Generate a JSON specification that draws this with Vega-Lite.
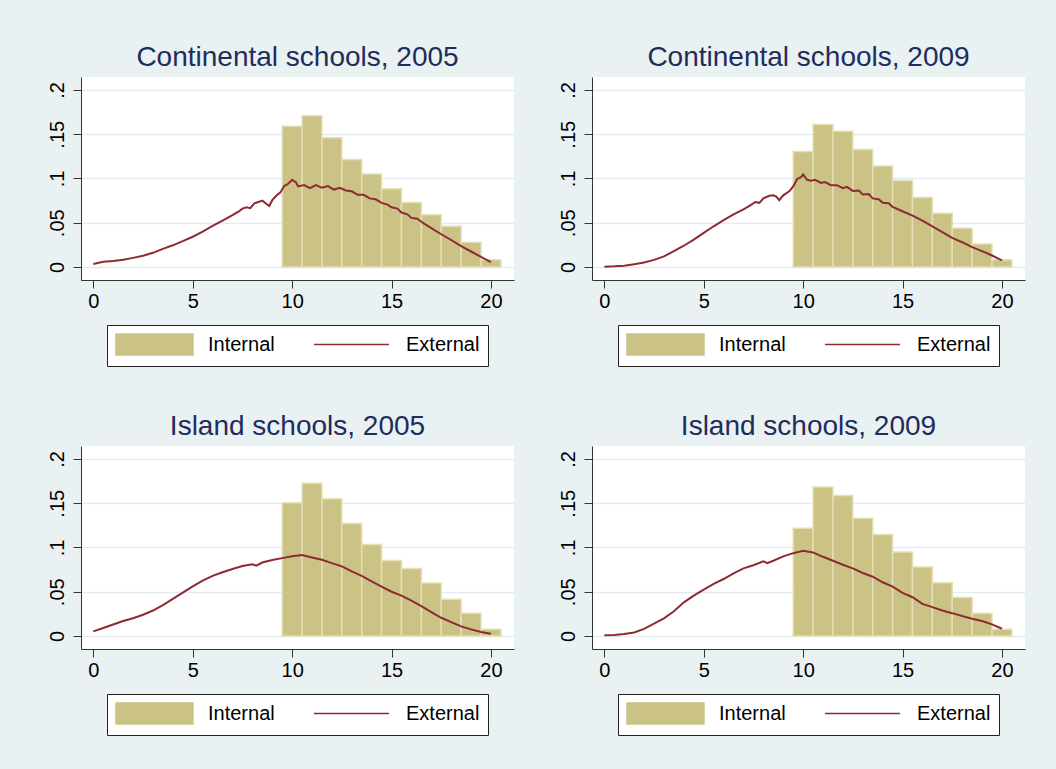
{
  "$schema": "https://vega.github.io/schema/vega-lite/v6.json",
  "background": "#EAF1F3",
  "padding": {"left": 47, "top": 44, "right": 31, "bottom": 39},
  "datasets": {
    "bars": [
      {"panel": "C2005", "bin_start": 9.5, "bin_end": 10.5, "density": 0.159},
      {"panel": "C2005", "bin_start": 10.5, "bin_end": 11.5, "density": 0.171},
      {"panel": "C2005", "bin_start": 11.5, "bin_end": 12.5, "density": 0.146},
      {"panel": "C2005", "bin_start": 12.5, "bin_end": 13.5, "density": 0.1215},
      {"panel": "C2005", "bin_start": 13.5, "bin_end": 14.5, "density": 0.105},
      {"panel": "C2005", "bin_start": 14.5, "bin_end": 15.5, "density": 0.0885},
      {"panel": "C2005", "bin_start": 15.5, "bin_end": 16.5, "density": 0.073},
      {"panel": "C2005", "bin_start": 16.5, "bin_end": 17.5, "density": 0.059},
      {"panel": "C2005", "bin_start": 17.5, "bin_end": 18.5, "density": 0.046},
      {"panel": "C2005", "bin_start": 18.5, "bin_end": 19.5, "density": 0.028},
      {"panel": "C2005", "bin_start": 19.5, "bin_end": 20.5, "density": 0.0083},
      {"panel": "C2009", "bin_start": 9.5, "bin_end": 10.5, "density": 0.1306},
      {"panel": "C2009", "bin_start": 10.5, "bin_end": 11.5, "density": 0.161},
      {"panel": "C2009", "bin_start": 11.5, "bin_end": 12.5, "density": 0.1535},
      {"panel": "C2009", "bin_start": 12.5, "bin_end": 13.5, "density": 0.1328},
      {"panel": "C2009", "bin_start": 13.5, "bin_end": 14.5, "density": 0.114},
      {"panel": "C2009", "bin_start": 14.5, "bin_end": 15.5, "density": 0.0976},
      {"panel": "C2009", "bin_start": 15.5, "bin_end": 16.5, "density": 0.0784},
      {"panel": "C2009", "bin_start": 16.5, "bin_end": 17.5, "density": 0.0608},
      {"panel": "C2009", "bin_start": 17.5, "bin_end": 18.5, "density": 0.0439},
      {"panel": "C2009", "bin_start": 18.5, "bin_end": 19.5, "density": 0.0259},
      {"panel": "C2009", "bin_start": 19.5, "bin_end": 20.5, "density": 0.0083},
      {"panel": "I2005", "bin_start": 9.5, "bin_end": 10.5, "density": 0.1506},
      {"panel": "I2005", "bin_start": 10.5, "bin_end": 11.5, "density": 0.1727},
      {"panel": "I2005", "bin_start": 11.5, "bin_end": 12.5, "density": 0.155},
      {"panel": "I2005", "bin_start": 12.5, "bin_end": 13.5, "density": 0.127},
      {"panel": "I2005", "bin_start": 13.5, "bin_end": 14.5, "density": 0.1034},
      {"panel": "I2005", "bin_start": 14.5, "bin_end": 15.5, "density": 0.0854},
      {"panel": "I2005", "bin_start": 15.5, "bin_end": 16.5, "density": 0.0764},
      {"panel": "I2005", "bin_start": 16.5, "bin_end": 17.5, "density": 0.0599},
      {"panel": "I2005", "bin_start": 17.5, "bin_end": 18.5, "density": 0.0416},
      {"panel": "I2005", "bin_start": 18.5, "bin_end": 19.5, "density": 0.0258},
      {"panel": "I2005", "bin_start": 19.5, "bin_end": 20.5, "density": 0.0075},
      {"panel": "I2009", "bin_start": 9.5, "bin_end": 10.5, "density": 0.1217},
      {"panel": "I2009", "bin_start": 10.5, "bin_end": 11.5, "density": 0.1685},
      {"panel": "I2009", "bin_start": 11.5, "bin_end": 12.5, "density": 0.1588},
      {"panel": "I2009", "bin_start": 12.5, "bin_end": 13.5, "density": 0.133},
      {"panel": "I2009", "bin_start": 13.5, "bin_end": 14.5, "density": 0.1146},
      {"panel": "I2009", "bin_start": 14.5, "bin_end": 15.5, "density": 0.0948},
      {"panel": "I2009", "bin_start": 15.5, "bin_end": 16.5, "density": 0.0779},
      {"panel": "I2009", "bin_start": 16.5, "bin_end": 17.5, "density": 0.0603},
      {"panel": "I2009", "bin_start": 17.5, "bin_end": 18.5, "density": 0.0434},
      {"panel": "I2009", "bin_start": 18.5, "bin_end": 19.5, "density": 0.0258},
      {"panel": "I2009", "bin_start": 19.5, "bin_end": 20.5, "density": 0.0075}
    ],
    "lines": [
      {"panel": "C2005", "x": 0, "density": 0.0034},
      {"panel": "C2005", "x": 0.5, "density": 0.0058},
      {"panel": "C2005", "x": 1, "density": 0.0068},
      {"panel": "C2005", "x": 1.5, "density": 0.0082},
      {"panel": "C2005", "x": 2, "density": 0.0103},
      {"panel": "C2005", "x": 2.5, "density": 0.0128},
      {"panel": "C2005", "x": 3, "density": 0.016},
      {"panel": "C2005", "x": 3.5, "density": 0.0205},
      {"panel": "C2005", "x": 4, "density": 0.0245},
      {"panel": "C2005", "x": 4.5, "density": 0.0292},
      {"panel": "C2005", "x": 5, "density": 0.0342},
      {"panel": "C2005", "x": 5.5, "density": 0.04},
      {"panel": "C2005", "x": 6, "density": 0.0465},
      {"panel": "C2005", "x": 6.5, "density": 0.0525},
      {"panel": "C2005", "x": 7, "density": 0.0585},
      {"panel": "C2005", "x": 7.3, "density": 0.0625},
      {"panel": "C2005", "x": 7.5, "density": 0.066},
      {"panel": "C2005", "x": 7.7, "density": 0.0675},
      {"panel": "C2005", "x": 7.9, "density": 0.0665},
      {"panel": "C2005", "x": 8.1, "density": 0.072},
      {"panel": "C2005", "x": 8.3, "density": 0.0735},
      {"panel": "C2005", "x": 8.5, "density": 0.075},
      {"panel": "C2005", "x": 8.7, "density": 0.0715},
      {"panel": "C2005", "x": 8.85, "density": 0.069},
      {"panel": "C2005", "x": 9.0, "density": 0.0755},
      {"panel": "C2005", "x": 9.2, "density": 0.0805},
      {"panel": "C2005", "x": 9.4, "density": 0.084},
      {"panel": "C2005", "x": 9.6, "density": 0.0915},
      {"panel": "C2005", "x": 9.8, "density": 0.094},
      {"panel": "C2005", "x": 10.0, "density": 0.0985},
      {"panel": "C2005", "x": 10.2, "density": 0.0955},
      {"panel": "C2005", "x": 10.3, "density": 0.091},
      {"panel": "C2005", "x": 10.6, "density": 0.0925},
      {"panel": "C2005", "x": 10.9, "density": 0.089},
      {"panel": "C2005", "x": 11.2, "density": 0.0925},
      {"panel": "C2005", "x": 11.5, "density": 0.0895},
      {"panel": "C2005", "x": 11.8, "density": 0.0915},
      {"panel": "C2005", "x": 12.1, "density": 0.0875},
      {"panel": "C2005", "x": 12.4, "density": 0.0895},
      {"panel": "C2005", "x": 12.7, "density": 0.0865},
      {"panel": "C2005", "x": 13.0, "density": 0.0855},
      {"panel": "C2005", "x": 13.3, "density": 0.0815},
      {"panel": "C2005", "x": 13.6, "density": 0.0815},
      {"panel": "C2005", "x": 13.9, "density": 0.0775},
      {"panel": "C2005", "x": 14.2, "density": 0.0765},
      {"panel": "C2005", "x": 14.5, "density": 0.0725},
      {"panel": "C2005", "x": 14.8, "density": 0.0705},
      {"panel": "C2005", "x": 15.0, "density": 0.0675},
      {"panel": "C2005", "x": 15.3, "density": 0.066},
      {"panel": "C2005", "x": 15.5, "density": 0.0615},
      {"panel": "C2005", "x": 15.8, "density": 0.0595},
      {"panel": "C2005", "x": 16.0, "density": 0.0555},
      {"panel": "C2005", "x": 16.3, "density": 0.0545},
      {"panel": "C2005", "x": 16.6, "density": 0.0495},
      {"panel": "C2005", "x": 17.0, "density": 0.044},
      {"panel": "C2005", "x": 17.5, "density": 0.037},
      {"panel": "C2005", "x": 18.0, "density": 0.0305},
      {"panel": "C2005", "x": 18.5, "density": 0.0235},
      {"panel": "C2005", "x": 19.0, "density": 0.0175},
      {"panel": "C2005", "x": 19.5, "density": 0.0115},
      {"panel": "C2005", "x": 20.0, "density": 0.0055},
      {"panel": "C2009", "x": 0, "density": 0.0004},
      {"panel": "C2009", "x": 0.5, "density": 0.0008},
      {"panel": "C2009", "x": 1, "density": 0.0015},
      {"panel": "C2009", "x": 1.5, "density": 0.003},
      {"panel": "C2009", "x": 2, "density": 0.005},
      {"panel": "C2009", "x": 2.5, "density": 0.008},
      {"panel": "C2009", "x": 3, "density": 0.012},
      {"panel": "C2009", "x": 3.5, "density": 0.018},
      {"panel": "C2009", "x": 4, "density": 0.024},
      {"panel": "C2009", "x": 4.5, "density": 0.031},
      {"panel": "C2009", "x": 5, "density": 0.0385},
      {"panel": "C2009", "x": 5.5, "density": 0.046},
      {"panel": "C2009", "x": 6, "density": 0.053},
      {"panel": "C2009", "x": 6.5, "density": 0.0595},
      {"panel": "C2009", "x": 7, "density": 0.065},
      {"panel": "C2009", "x": 7.3, "density": 0.069},
      {"panel": "C2009", "x": 7.6, "density": 0.0735},
      {"panel": "C2009", "x": 7.8, "density": 0.0725},
      {"panel": "C2009", "x": 8.0, "density": 0.0775},
      {"panel": "C2009", "x": 8.3, "density": 0.0805},
      {"panel": "C2009", "x": 8.5, "density": 0.081},
      {"panel": "C2009", "x": 8.65, "density": 0.0795},
      {"panel": "C2009", "x": 8.8, "density": 0.0755},
      {"panel": "C2009", "x": 9.0, "density": 0.081},
      {"panel": "C2009", "x": 9.3, "density": 0.0855},
      {"panel": "C2009", "x": 9.5, "density": 0.091},
      {"panel": "C2009", "x": 9.7, "density": 0.0995},
      {"panel": "C2009", "x": 9.9, "density": 0.1015},
      {"panel": "C2009", "x": 10.0, "density": 0.1045},
      {"panel": "C2009", "x": 10.2, "density": 0.0985},
      {"panel": "C2009", "x": 10.4, "density": 0.0975},
      {"panel": "C2009", "x": 10.6, "density": 0.0985},
      {"panel": "C2009", "x": 10.9, "density": 0.095},
      {"panel": "C2009", "x": 11.1, "density": 0.096},
      {"panel": "C2009", "x": 11.4, "density": 0.0925},
      {"panel": "C2009", "x": 11.7, "density": 0.0925},
      {"panel": "C2009", "x": 12.0, "density": 0.089},
      {"panel": "C2009", "x": 12.2, "density": 0.0905},
      {"panel": "C2009", "x": 12.5, "density": 0.086},
      {"panel": "C2009", "x": 12.8, "density": 0.0865},
      {"panel": "C2009", "x": 13.0, "density": 0.082},
      {"panel": "C2009", "x": 13.3, "density": 0.0825},
      {"panel": "C2009", "x": 13.5, "density": 0.0775},
      {"panel": "C2009", "x": 13.8, "density": 0.0765},
      {"panel": "C2009", "x": 14.0, "density": 0.0725},
      {"panel": "C2009", "x": 14.3, "density": 0.072},
      {"panel": "C2009", "x": 14.5, "density": 0.068},
      {"panel": "C2009", "x": 15.0, "density": 0.063},
      {"panel": "C2009", "x": 15.5, "density": 0.058},
      {"panel": "C2009", "x": 16.0, "density": 0.0525},
      {"panel": "C2009", "x": 16.5, "density": 0.046},
      {"panel": "C2009", "x": 17.0, "density": 0.0395},
      {"panel": "C2009", "x": 17.5, "density": 0.033},
      {"panel": "C2009", "x": 18.0, "density": 0.028},
      {"panel": "C2009", "x": 18.5, "density": 0.0225},
      {"panel": "C2009", "x": 19.0, "density": 0.018},
      {"panel": "C2009", "x": 19.5, "density": 0.013},
      {"panel": "C2009", "x": 20.0, "density": 0.0075},
      {"panel": "I2005", "x": 0, "density": 0.0052},
      {"panel": "I2005", "x": 0.5, "density": 0.009},
      {"panel": "I2005", "x": 1, "density": 0.013},
      {"panel": "I2005", "x": 1.5, "density": 0.0169},
      {"panel": "I2005", "x": 2, "density": 0.020},
      {"panel": "I2005", "x": 2.5, "density": 0.024},
      {"panel": "I2005", "x": 3, "density": 0.0288},
      {"panel": "I2005", "x": 3.5, "density": 0.035},
      {"panel": "I2005", "x": 4, "density": 0.042},
      {"panel": "I2005", "x": 4.5, "density": 0.049},
      {"panel": "I2005", "x": 5, "density": 0.056},
      {"panel": "I2005", "x": 5.5, "density": 0.0625},
      {"panel": "I2005", "x": 6, "density": 0.068},
      {"panel": "I2005", "x": 6.5, "density": 0.072},
      {"panel": "I2005", "x": 7, "density": 0.0757},
      {"panel": "I2005", "x": 7.5, "density": 0.079},
      {"panel": "I2005", "x": 8, "density": 0.081},
      {"panel": "I2005", "x": 8.2, "density": 0.0795},
      {"panel": "I2005", "x": 8.5, "density": 0.083},
      {"panel": "I2005", "x": 9, "density": 0.0858},
      {"panel": "I2005", "x": 9.5, "density": 0.088},
      {"panel": "I2005", "x": 10, "density": 0.090},
      {"panel": "I2005", "x": 10.5, "density": 0.0914},
      {"panel": "I2005", "x": 11, "density": 0.0888},
      {"panel": "I2005", "x": 11.5, "density": 0.0861},
      {"panel": "I2005", "x": 12, "density": 0.0824},
      {"panel": "I2005", "x": 12.5, "density": 0.0787},
      {"panel": "I2005", "x": 13, "density": 0.073},
      {"panel": "I2005", "x": 13.5, "density": 0.068},
      {"panel": "I2005", "x": 14, "density": 0.0618},
      {"panel": "I2005", "x": 14.5, "density": 0.0558},
      {"panel": "I2005", "x": 15, "density": 0.050},
      {"panel": "I2005", "x": 15.5, "density": 0.0457},
      {"panel": "I2005", "x": 16, "density": 0.040},
      {"panel": "I2005", "x": 16.5, "density": 0.0337},
      {"panel": "I2005", "x": 17, "density": 0.027},
      {"panel": "I2005", "x": 17.5, "density": 0.0206},
      {"panel": "I2005", "x": 18, "density": 0.0157},
      {"panel": "I2005", "x": 18.5, "density": 0.0109},
      {"panel": "I2005", "x": 19, "density": 0.0075},
      {"panel": "I2005", "x": 19.5, "density": 0.0045},
      {"panel": "I2005", "x": 20, "density": 0.0026},
      {"panel": "I2009", "x": 0, "density": 0.0007},
      {"panel": "I2009", "x": 0.5, "density": 0.001},
      {"panel": "I2009", "x": 1, "density": 0.0022},
      {"panel": "I2009", "x": 1.5, "density": 0.004},
      {"panel": "I2009", "x": 2, "density": 0.008},
      {"panel": "I2009", "x": 2.5, "density": 0.014},
      {"panel": "I2009", "x": 3, "density": 0.020},
      {"panel": "I2009", "x": 3.5, "density": 0.028},
      {"panel": "I2009", "x": 4, "density": 0.038},
      {"panel": "I2009", "x": 4.5, "density": 0.0457},
      {"panel": "I2009", "x": 5, "density": 0.0524},
      {"panel": "I2009", "x": 5.5, "density": 0.0588},
      {"panel": "I2009", "x": 6, "density": 0.0644},
      {"panel": "I2009", "x": 6.5, "density": 0.0708},
      {"panel": "I2009", "x": 7, "density": 0.0764},
      {"panel": "I2009", "x": 7.5, "density": 0.080},
      {"panel": "I2009", "x": 8, "density": 0.0843},
      {"panel": "I2009", "x": 8.2, "density": 0.0824},
      {"panel": "I2009", "x": 8.5, "density": 0.085},
      {"panel": "I2009", "x": 9, "density": 0.090},
      {"panel": "I2009", "x": 9.5, "density": 0.0936},
      {"panel": "I2009", "x": 10, "density": 0.0963},
      {"panel": "I2009", "x": 10.5, "density": 0.0944},
      {"panel": "I2009", "x": 11, "density": 0.0895},
      {"panel": "I2009", "x": 11.5, "density": 0.085},
      {"panel": "I2009", "x": 12, "density": 0.0805},
      {"panel": "I2009", "x": 12.5, "density": 0.0764},
      {"panel": "I2009", "x": 13, "density": 0.0712},
      {"panel": "I2009", "x": 13.5, "density": 0.067},
      {"panel": "I2009", "x": 14, "density": 0.0607},
      {"panel": "I2009", "x": 14.5, "density": 0.0558},
      {"panel": "I2009", "x": 15, "density": 0.0487},
      {"panel": "I2009", "x": 15.5, "density": 0.0438},
      {"panel": "I2009", "x": 16, "density": 0.0363},
      {"panel": "I2009", "x": 16.5, "density": 0.0326},
      {"panel": "I2009", "x": 17, "density": 0.0288},
      {"panel": "I2009", "x": 17.5, "density": 0.0258},
      {"panel": "I2009", "x": 18, "density": 0.0225},
      {"panel": "I2009", "x": 18.5, "density": 0.0195},
      {"panel": "I2009", "x": 19, "density": 0.0169},
      {"panel": "I2009", "x": 19.5, "density": 0.0131},
      {"panel": "I2009", "x": 20, "density": 0.0082}
    ]
  },
  "columns": 2,
  "spacing": {"row": 46, "column": 44},
  "resolve": {
    "scale": {"color": "independent", "shape": "independent"},
    "legend": {"color": "independent", "shape": "independent"}
  },
  "concat": [
    {
      "title": "Continental schools, 2005",
      "width": 433, "height": 203,
      "layer": [
        {"data": {"name": "bars"}, "transform": [{"filter": "datum.panel === 'C2005'"}],
         "mark": {"type": "rect", "stroke": "#E4DFB4", "strokeWidth": 1.5},
         "encoding": {
           "x": {"field": "bin_start", "type": "quantitative", "scale": {"domain": [-0.62, 21.16], "nice": false, "zero": false}, "axis": {"values": [0, 5, 10, 15, 20]}},
           "x2": {"field": "bin_end"},
           "y": {"field": "density", "type": "quantitative", "scale": {"domain": [-0.0147, 0.2147], "nice": false, "zero": false}, "axis": {"values": [0, 0.05, 0.1, 0.15, 0.2]}},
           "y2": {"datum": 0},
           "color": {"datum": "Internal", "type": "nominal", "scale": {"domain": ["Internal", "External"], "range": ["#CBC385", "#8E2A32"]}}
         }},
        {"data": {"name": "lines"}, "transform": [{"filter": "datum.panel === 'C2005'"}],
         "mark": {"type": "line", "strokeWidth": 2},
         "encoding": {
           "x": {"field": "x", "type": "quantitative"},
           "y": {"field": "density", "type": "quantitative"},
           "color": {"datum": "External", "type": "nominal"}
         }},
        {"data": {"name": "bars"}, "transform": [{"filter": "datum.panel === 'C2005'"}],
         "mark": {"type": "point", "size": 0},
         "encoding": {
           "x": {"field": "bin_start", "type": "quantitative"},
           "y": {"field": "density", "type": "quantitative"},
           "shape": {"datum": "Internal", "type": "nominal", "scale": {"domain": ["Internal", "External"], "range": ["M-1,-1H6.33V1H-1Z", "M-1,-1M-1,0H6.14M6.14,1"]}}
         }}
      ]
    },
    {
      "title": "Continental schools, 2009",
      "width": 433, "height": 203,
      "layer": [
        {"data": {"name": "bars"}, "transform": [{"filter": "datum.panel === 'C2009'"}],
         "mark": {"type": "rect", "stroke": "#E4DFB4", "strokeWidth": 1.5},
         "encoding": {
           "x": {"field": "bin_start", "type": "quantitative", "scale": {"domain": [-0.62, 21.16], "nice": false, "zero": false}, "axis": {"values": [0, 5, 10, 15, 20]}},
           "x2": {"field": "bin_end"},
           "y": {"field": "density", "type": "quantitative", "scale": {"domain": [-0.0147, 0.2147], "nice": false, "zero": false}, "axis": {"values": [0, 0.05, 0.1, 0.15, 0.2]}},
           "y2": {"datum": 0},
           "color": {"datum": "Internal", "type": "nominal", "scale": {"domain": ["Internal", "External"], "range": ["#CBC385", "#8E2A32"]}}
         }},
        {"data": {"name": "lines"}, "transform": [{"filter": "datum.panel === 'C2009'"}],
         "mark": {"type": "line", "strokeWidth": 2},
         "encoding": {
           "x": {"field": "x", "type": "quantitative"},
           "y": {"field": "density", "type": "quantitative"},
           "color": {"datum": "External", "type": "nominal"}
         }},
        {"data": {"name": "bars"}, "transform": [{"filter": "datum.panel === 'C2009'"}],
         "mark": {"type": "point", "size": 0},
         "encoding": {
           "x": {"field": "bin_start", "type": "quantitative"},
           "y": {"field": "density", "type": "quantitative"},
           "shape": {"datum": "Internal", "type": "nominal", "scale": {"domain": ["Internal", "External"], "range": ["M-1,-1H6.33V1H-1Z", "M-1,-1M-1,0H6.14M6.14,1"]}}
         }}
      ]
    },
    {
      "title": "Island schools, 2005",
      "width": 433, "height": 203,
      "layer": [
        {"data": {"name": "bars"}, "transform": [{"filter": "datum.panel === 'I2005'"}],
         "mark": {"type": "rect", "stroke": "#E4DFB4", "strokeWidth": 1.5},
         "encoding": {
           "x": {"field": "bin_start", "type": "quantitative", "scale": {"domain": [-0.62, 21.16], "nice": false, "zero": false}, "axis": {"values": [0, 5, 10, 15, 20]}},
           "x2": {"field": "bin_end"},
           "y": {"field": "density", "type": "quantitative", "scale": {"domain": [-0.0147, 0.2147], "nice": false, "zero": false}, "axis": {"values": [0, 0.05, 0.1, 0.15, 0.2]}},
           "y2": {"datum": 0},
           "color": {"datum": "Internal", "type": "nominal", "scale": {"domain": ["Internal", "External"], "range": ["#CBC385", "#8E2A32"]}}
         }},
        {"data": {"name": "lines"}, "transform": [{"filter": "datum.panel === 'I2005'"}],
         "mark": {"type": "line", "strokeWidth": 2},
         "encoding": {
           "x": {"field": "x", "type": "quantitative"},
           "y": {"field": "density", "type": "quantitative"},
           "color": {"datum": "External", "type": "nominal"}
         }},
        {"data": {"name": "bars"}, "transform": [{"filter": "datum.panel === 'I2005'"}],
         "mark": {"type": "point", "size": 0},
         "encoding": {
           "x": {"field": "bin_start", "type": "quantitative"},
           "y": {"field": "density", "type": "quantitative"},
           "shape": {"datum": "Internal", "type": "nominal", "scale": {"domain": ["Internal", "External"], "range": ["M-1,-1H6.33V1H-1Z", "M-1,-1M-1,0H6.14M6.14,1"]}}
         }}
      ]
    },
    {
      "title": "Island schools, 2009",
      "width": 433, "height": 203,
      "layer": [
        {"data": {"name": "bars"}, "transform": [{"filter": "datum.panel === 'I2009'"}],
         "mark": {"type": "rect", "stroke": "#E4DFB4", "strokeWidth": 1.5},
         "encoding": {
           "x": {"field": "bin_start", "type": "quantitative", "scale": {"domain": [-0.62, 21.16], "nice": false, "zero": false}, "axis": {"values": [0, 5, 10, 15, 20]}},
           "x2": {"field": "bin_end"},
           "y": {"field": "density", "type": "quantitative", "scale": {"domain": [-0.0147, 0.2147], "nice": false, "zero": false}, "axis": {"values": [0, 0.05, 0.1, 0.15, 0.2]}},
           "y2": {"datum": 0},
           "color": {"datum": "Internal", "type": "nominal", "scale": {"domain": ["Internal", "External"], "range": ["#CBC385", "#8E2A32"]}}
         }},
        {"data": {"name": "lines"}, "transform": [{"filter": "datum.panel === 'I2009'"}],
         "mark": {"type": "line", "strokeWidth": 2},
         "encoding": {
           "x": {"field": "x", "type": "quantitative"},
           "y": {"field": "density", "type": "quantitative"},
           "color": {"datum": "External", "type": "nominal"}
         }},
        {"data": {"name": "bars"}, "transform": [{"filter": "datum.panel === 'I2009'"}],
         "mark": {"type": "point", "size": 0},
         "encoding": {
           "x": {"field": "bin_start", "type": "quantitative"},
           "y": {"field": "density", "type": "quantitative"},
           "shape": {"datum": "Internal", "type": "nominal", "scale": {"domain": ["Internal", "External"], "range": ["M-1,-1H6.33V1H-1Z", "M-1,-1M-1,0H6.14M6.14,1"]}}
         }}
      ]
    }
  ],
  "config": {
    "font": "Liberation Sans",
    "view": {"fill": "white", "stroke": null},
    "title": {"fontSize": 28, "fontWeight": "normal", "color": "#1E2D5C", "anchor": "middle", "offset": 5, "font": "Liberation Sans"},
    "axisX": {
      "title": null, "grid": false,
      "domainColor": "#333333", "tickColor": "#333333", "tickSize": 8,
      "labelFontSize": 20, "labelColor": "#000000", "labelPadding": 3, "labelFlush": false
    },
    "axisY": {
      "title": null, "grid": true, "gridColor": "#E2EBEE", "gridWidth": 1.5,
      "labelExpr": "datum.value == 0 ? '0' : replace(format(datum.value, '.2~f'), '0.', '.')",
      "domainColor": "#333333", "tickColor": "#333333", "tickSize": 8,
      "labelFontSize": 20, "labelColor": "#000000", "labelAngle": 270, "labelAlign": "center", "labelBaseline": "alphabetic", "labelPadding": 10, "labelFlush": false
    },
    "legend": {
      "orient": "bottom", "direction": "horizontal", "title": null,
      "strokeColor": "#222222", "fillColor": "white", "padding": 8,
      "labelFontSize": 20, "labelColor": "#000000", "labelFont": "Liberation Sans",
      "symbolSize": 441, "symbolStrokeWidth": 1.5, "labelOffset": 70, "columnPadding": 36, "offset": 14,
      "layout": {"bottom": {"anchor": "middle"}},
      "symbolType": "M-1,-1H6.33V1H-1Z"
    }
  }
}
